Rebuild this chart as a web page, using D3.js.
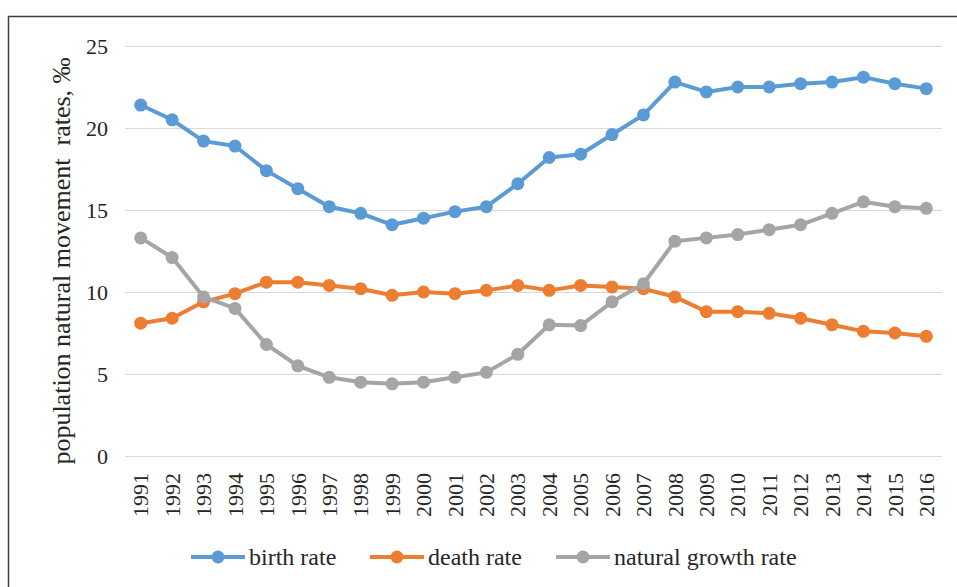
<!DOCTYPE html>
<html>
<head>
<meta charset="utf-8">
<script src="https://cdn.jsdelivr.net/npm/d3@7"></script>
<style>
  body { margin: 0; background: #fff; }
  text { font-family: "Liberation Serif", "Times New Roman", serif; fill: #262626; }
</style>
</head>
<body>
<div id="chart"></div>
<script>
const years = d3.range(1991, 2017).map(String);
const birthRate = [21.4, 20.5, 19.2, 18.9, 17.4, 16.3, 15.2, 14.8, 14.1, 14.5, 14.9, 15.2, 16.6,
    18.2, 18.4, 19.6, 20.8, 22.8, 22.2, 22.5, 22.5, 22.7, 22.8, 23.1, 22.7, 22.4];
const deathRate = [8.1, 8.4, 9.4, 9.9, 10.6, 10.6, 10.4, 10.2, 9.8, 10.0, 9.9, 10.1, 10.4,
    10.1, 10.4, 10.3, 10.2, 9.7, 8.8, 8.8, 8.7, 8.4, 8.0, 7.6, 7.5, 7.3];
const growthRate = [13.3, 12.1, 9.7, 9.0, 6.8, 5.5, 4.8, 4.5, 4.4, 4.5, 4.8, 5.1, 6.2,
    8.0, 7.95, 9.4, 10.5, 13.1, 13.3, 13.5, 13.8, 14.1, 14.8, 15.5, 15.2, 15.1];
const yTicks = [0, 5, 10, 15, 20, 25];
const seriesNames = ["birth rate", "death rate", "natural growth rate"];
const colors = ["#5B9BD5", "#ED7D31", "#A5A5A5"];

const width = 957;
const height = 587;
const margin = { top: 46, right: 15, bottom: 131, left: 125 };

const svg = d3.select("#chart")
    .append("svg")
    .attr("width", width)
    .attr("height", height);

// chart frame
svg.append("rect")
    .attr("x", 8.5)
    .attr("y", 16.5)
    .attr("width", 960)
    .attr("height", 600)
    .attr("fill", "none")
    .attr("stroke", "#404040")
    .attr("stroke-width", 1.5);

const xScale = d3.scaleBand()
    .domain(years)
    .range([margin.left, width - margin.right]);

const yScale = d3.scaleLinear()
    .domain([0, 25])
    .range([height - margin.bottom, margin.top]);

const x = d => xScale(d) + xScale.bandwidth() / 2;

// gridlines
svg.selectAll(".yGrid")
    .data(yTicks)
    .enter()
    .append("line")
    .attr("class", "yGrid")
    .attr("x1", margin.left)
    .attr("x2", width - margin.right)
    .attr("y1", d => Math.round(yScale(d)) + 0.5)
    .attr("y2", d => Math.round(yScale(d)) + 0.5)
    .attr("stroke", "#d9d9d9")
    .attr("stroke-width", 1);

// y tick labels
svg.selectAll(".yLabel")
    .data(yTicks)
    .enter()
    .append("text")
    .attr("x", 108)
    .attr("y", d => yScale(d))
    .attr("dy", "0.35em")
    .style("text-anchor", "end")
    .style("font-size", "22px")
    .text(d => d);

// x tick labels
svg.selectAll(".xLabel")
    .data(years)
    .enter()
    .append("text")
    .attr("transform", d => `translate(${x(d)}, ${height - margin.bottom + 17}) rotate(-90)`)
    .attr("dy", "0.35em")
    .style("text-anchor", "end")
    .style("font-size", "22px")
    .text(d => d);

// y axis title
svg.append("text")
    .attr("transform", `translate(61, 261) rotate(-90)`)
    .attr("dy", "0.35em")
    .style("text-anchor", "middle")
    .style("font-size", "26px")
    .text("population natural movement\u00a0 rates, ‰");

const line = d3.line()
    .x((d, i) => x(years[i]))
    .y(d => yScale(d));

const allSeries = [birthRate, deathRate, growthRate];

allSeries.forEach((values, s) => {
    svg.append("path")
        .datum(values)
        .attr("fill", "none")
        .attr("stroke", colors[s])
        .attr("stroke-width", 4)
        .attr("stroke-linejoin", "round")
        .attr("d", line);

    svg.selectAll(".dot" + s)
        .data(values)
        .enter()
        .append("circle")
        .attr("cx", (d, i) => x(years[i]))
        .attr("cy", d => yScale(d))
        .attr("r", 6.5)
        .attr("fill", colors[s]);
});

// legend
const legendX = [191, 370, 556];
const legendY = 557;
seriesNames.forEach((name, s) => {
    const g = svg.append("g").attr("transform", `translate(${legendX[s]}, ${legendY})`);
    g.append("line")
        .attr("x1", 0)
        .attr("x2", 54)
        .attr("stroke", colors[s])
        .attr("stroke-width", 4);
    g.append("circle")
        .attr("cx", 27)
        .attr("r", 6.5)
        .attr("fill", colors[s]);
    g.append("text")
        .attr("x", 58)
        .attr("dy", "0.35em")
        .style("font-size", "24px")
        .text(name);
});
</script>
</body>
</html>
